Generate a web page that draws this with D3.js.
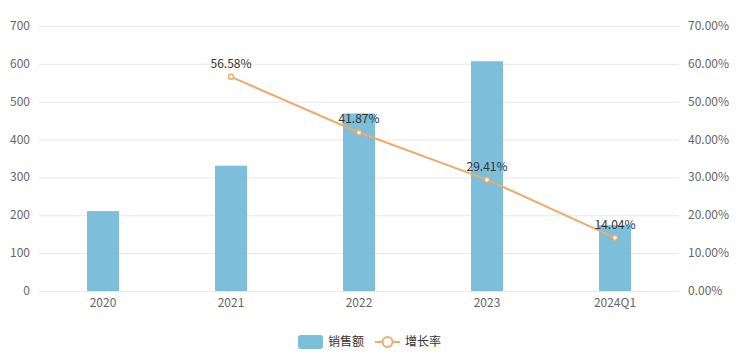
<!DOCTYPE html>
<html><head><meta charset="utf-8">
<script src="https://cdn.jsdelivr.net/npm/d3@7"></script>
<style>body{margin:0;background:#fff;}svg{display:block;font-family:"Microsoft YaHei","Noto Sans CJK SC",sans-serif;}</style>
</head><body><svg id="c" width="739" height="358"></svg>
<script>
const categories = ["2020","2021","2022","2023","2024Q1"];
const sales = [211, 331, 469, 607, 174];
const growth = [null, 56.58, 41.87, 29.41, 14.04];
const leftTicks = [0,100,200,300,400,500,600,700];
const rightTicks = [0,10,20,30,40,50,60,70];
const seriesNames = ["销售额","增长率"];

const svg = d3.select("#c");
const m = {l:39, r:679, t:26, b:291};
const x = d3.scaleBand().domain(categories).range([m.l, m.r]);
const yL = d3.scaleLinear().domain([0,700]).range([m.b, m.t]);
const yR = d3.scaleLinear().domain([0,70]).range([m.b, m.t]);
const barColor = "#7dbedb", lineColor = "#f0aa6a";

svg.append("g").selectAll("line").data(leftTicks).join("line")
  .attr("x1", m.l).attr("x2", m.r).attr("y1", d=>yL(d)+0.5).attr("y2", d=>yL(d)+0.5)
  .attr("stroke", "#e8e8e8").attr("stroke-width",1);

svg.append("g").selectAll("text").data(leftTicks).join("text")
  .attr("x", 30).attr("y", d=>yL(d)+4).attr("text-anchor","end")
  .attr("font-size",12).attr("fill","#666").text(d=>d);

svg.append("g").selectAll("text").data(rightTicks).join("text")
  .attr("x", 688).attr("y", d=>yR(d)+4).attr("text-anchor","start")
  .attr("font-size",12).attr("fill","#666").text(d=>d.toFixed(2)+"%");

svg.append("g").selectAll("text").data(categories).join("text")
  .attr("x", d=>x(d)+x.bandwidth()/2).attr("y", 307).attr("text-anchor","middle")
  .attr("font-size",12).attr("fill","#666").text(d=>d);

const bw = x.bandwidth()*0.25;
svg.append("g").selectAll("rect").data(sales).join("rect")
  .attr("x", (d,i)=>x(categories[i])+x.bandwidth()/2-bw/2)
  .attr("width", bw)
  .attr("y", d=>yL(d)).attr("height", d=>yL(0)-yL(d))
  .attr("fill", barColor);

const pts = growth.map((g,i)=>({g, c:categories[i]})).filter(p=>p.g!==null);
const line = d3.line().x(p=>x(p.c)+x.bandwidth()/2).y(p=>yR(p.g));
svg.append("path").datum(pts).attr("d", line).attr("fill","none")
  .attr("stroke", lineColor).attr("stroke-width",2);
svg.append("g").selectAll("circle").data(pts).join("circle")
  .attr("cx", p=>x(p.c)+x.bandwidth()/2).attr("cy", p=>yR(p.g)).attr("r",2.5)
  .attr("fill","#fff").attr("stroke", lineColor).attr("stroke-width",1.5);
svg.append("g").selectAll("text").data(pts).join("text")
  .attr("x", p=>x(p.c)+x.bandwidth()/2).attr("y", p=>yR(p.g)-9)
  .attr("text-anchor","middle").attr("font-size",12).attr("fill","#333")
  .text(p=>p.g.toFixed(2)+"%");

// legend
const lg = svg.append("g");
lg.append("rect").attr("x",298).attr("y",335).attr("width",25).attr("height",14).attr("rx",3).attr("fill",barColor);
lg.append("text").attr("x",328).attr("y",346).attr("font-size",12).attr("fill","#333").text(seriesNames[0]);
lg.append("line").attr("x1",375).attr("x2",400).attr("y1",342).attr("y2",342).attr("stroke",lineColor).attr("stroke-width",2);
lg.append("circle").attr("cx",387.5).attr("cy",342).attr("r",5).attr("fill","#fff").attr("stroke",lineColor).attr("stroke-width",2);
lg.append("text").attr("x",405).attr("y",346).attr("font-size",12).attr("fill","#333").text(seriesNames[1]);
</script></body></html>
